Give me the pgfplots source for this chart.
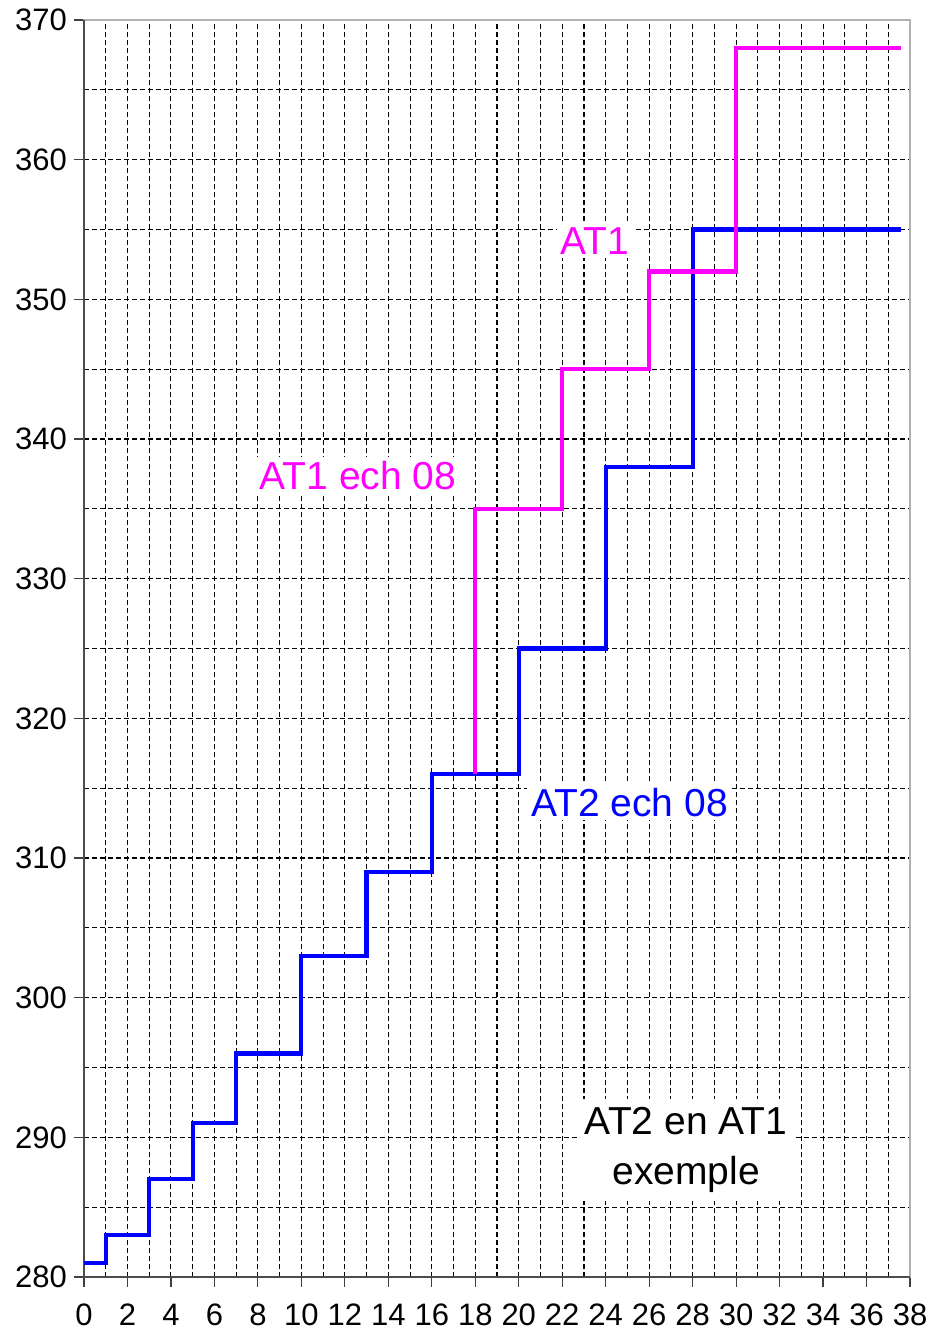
\documentclass[border=0pt]{standalone}
\usepackage{pgfplots}
\pgfplotsset{compat=1.18}
\usepackage{fontspec}
\setmainfont{Liberation Sans}
\definecolor{atblue}{RGB}{0,0,255}
\definecolor{atmag}{RGB}{255,0,255}
\begin{document}
\begin{tikzpicture}
\path[use as bounding box] (-42pt,-27.5pt) rectangle (423.5pt,638.5pt);
\begin{axis}[
 scale only axis, width=413pt, height=628.5pt,
 xmin=0, xmax=38, ymin=280, ymax=370,
 xtick distance=2, ytick distance=10,
 minor x tick num=1, minor y tick num=1,
 grid=both,
 major grid style={black, line width=0.55pt, dash pattern=on 2.5pt off 1.5pt},
 minor grid style={black, line width=0.55pt, dash pattern=on 2.5pt off 1.5pt},
 minor tick length=0pt,
 major tick length=5pt,
 tick align=outside,
 xtick pos=bottom, ytick pos=left,
 tick style={color=black!75, line width=0.6pt},
 axis line style={draw=black!30, line width=0.8pt},
 ticklabel style={font=\fontsize{15.5}{17}\selectfont},
 xticklabel style={yshift=-5pt},
 /pgf/number format/assume math mode=true,
 /pgf/number format/1000 sep={},
 clip=false,
]
\draw[black!70, line width=0.8pt] (rel axis cs:0,1) -- (rel axis cs:0,0) -- (rel axis cs:1,0);
\addplot[const plot, atblue, line width=2.1pt, line join=miter] coordinates {
(0,281)(1,283)(3,287)(5,291)(7,296)(10,303)(13,309)(16,316)(20,325)(24,338)(28,355)(37.6,355)};
\addplot[const plot, atmag, line width=2.1pt, line join=miter] coordinates {
(18,316)(18,335)(22,345)(26,352)(30,368)(37.6,368)};
\node[fill=white, text=atmag, inner sep=2pt, font=\fontsize{19.5}{24}\selectfont] at (axis cs:23.5,354.2) {AT1};
\node[fill=white, text=atmag, inner sep=2pt, font=\fontsize{19.5}{24}\selectfont] at (axis cs:12.6,337.4) {AT1 ech 08};
\node[fill=white, text=atblue, inner sep=2pt, font=\fontsize{19.5}{24}\selectfont] at (axis cs:25.1,314.0) {AT2 ech 08};
\node[fill=white, text=black, inner sep=4pt, align=center, font=\fontsize{19.5}{25}\selectfont] at (axis cs:27.7,289.1) {AT2 en AT1\\exemple};
\end{axis}
\end{tikzpicture}
\end{document}
